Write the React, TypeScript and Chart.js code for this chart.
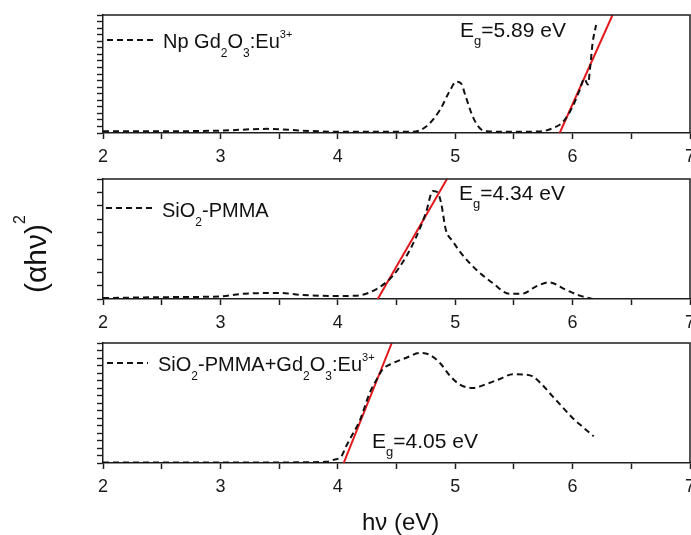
import React, { useEffect, useRef } from "react";
import { Chart, registerables } from "chart.js";

Chart.register(...registerables);

// ---------- data (x in eV, y in arbitrary units 0..100 of each panel) ----------
const xMin = 2;
const xMax = 7;
const xTickStep = 0.5;

// Panel 1: Np Gd2O3:Eu3+
const npX = [2.0, 2.5, 3.0, 3.4, 3.7, 4.0, 4.3, 4.64, 4.75, 4.87, 4.95, 5.01, 5.05, 5.09, 5.15, 5.21, 5.27, 5.43, 5.72, 5.83, 5.92, 6.0, 6.06, 6.1, 6.13, 6.15, 6.17, 6.2];
const npY = [1.5, 1.5, 2, 3.5, 2, 1, 1, 1, 5.3, 19.5, 35, 43.5, 42, 30.8, 13.8, 4, 1.5, 1, 1.3, 4, 9.6, 22.3, 36.4, 46, 41, 56, 76, 91.5];
const npFitX = [5.89, 6.34];
const npFitY = [0, 100];

// Panel 2: SiO2-PMMA
const pmX = [2.0, 2.5, 3.0, 3.2, 3.5, 3.7, 4.0, 4.16, 4.33, 4.47, 4.58, 4.66, 4.75, 4.81, 4.85, 4.88, 4.92, 4.98, 5.06, 5.18, 5.32, 5.46, 5.57, 5.69, 5.8, 5.94, 6.06, 6.17];
const pmY = [0.8, 1.5, 2.2, 4.4, 5, 3.3, 2.5, 2.8, 8.3, 19.4, 35, 50, 71.7, 90, 88.9, 80, 57.8, 48, 37, 24.4, 13.3, 4.4, 4.4, 10.5, 13.9, 7.8, 2.8, 0];
const pmFitX = [4.34, 4.93];
const pmFitY = [0, 100];

// Panel 3: SiO2-PMMA+Gd2O3:Eu3+
const hyX = [2.0, 2.5, 3.0, 3.5, 3.9, 3.97, 4.03, 4.07, 4.1, 4.19, 4.27, 4.33, 4.38, 4.47, 4.58, 4.7, 4.78, 4.87, 4.96, 5.04, 5.15, 5.27, 5.38, 5.49, 5.61, 5.66, 5.74, 5.83, 5.91, 6.0, 6.08, 6.18];
const hyY = [0.5, 0.5, 0.5, 0.5, 1, 2.8, 5.5, 13.8, 19.4, 36, 58, 69.4, 77.8, 83.3, 87.5, 91.7, 90.3, 83.3, 72.2, 65.3, 62.5, 66, 70, 74, 73.6, 72.2, 65.3, 55.5, 47, 37.5, 30.5, 22.2];
const hyFitX = [4.05, 4.46];
const hyFitY = [0, 100];

// minor y-tick counts per panel
const yTickCounts = [18, 9, 16];

// ---------- layout ----------
const FONT = "'Liberation Sans', Arial, Helvetica, sans-serif";
const CANVAS_W = 720;
const PLOT_LEFT = 103;
const PLOT_RIGHT = 690;
const PAD_TOP = 10;
const X_AXIS_H = 44;
const Y_AXIS_W = 7;
const AXIS_COLOR = "#1e1e1e";

const panels = [
  { top: 15, h: 118, xs: npX, ys: npY, fx: npFitX, fy: npFitY, n: yTickCounts[0] },
  { top: 179, h: 120, xs: pmX, ys: pmY, fx: pmFitX, fy: pmFitY, n: yTickCounts[1] },
  { top: 343, h: 120, xs: hyX, ys: hyY, fx: hyFitX, fy: hyFitY, n: yTickCounts[2] },
];

const framePlugin = {
  id: "frame",
  afterDraw(chart: any) {
    const { ctx, chartArea: a } = chart;
    ctx.save();
    ctx.strokeStyle = AXIS_COLOR;
    ctx.lineWidth = 1.5;
    ctx.beginPath();
    ctx.moveTo(a.left, a.top);
    ctx.lineTo(a.right, a.top);
    ctx.lineTo(a.right, a.bottom);
    ctx.stroke();
    ctx.restore();
  },
};

const subStyle = (shift: number, size: number): React.CSSProperties => ({
  fontSize: size,
  position: "relative",
  top: shift,
});

function Label({ left, top, size, children }: any) {
  return (
    <div
      style={{
        position: "absolute",
        left,
        top,
        fontSize: size,
        lineHeight: 1,
        whiteSpace: "nowrap",
        color: "#111",
      }}
    >
      {children}
    </div>
  );
}

export default function App() {
  const refs = useRef<(HTMLCanvasElement | null)[]>([]);

  useEffect(() => {
    const charts = panels.map((p, i) => {
      const canvas = refs.current[i] as HTMLCanvasElement;
      return new Chart(canvas, {
        type: "line",
        data: {
          datasets: [
            {
              data: p.xs.map((x, k) => ({ x, y: p.ys[k] })),
              borderColor: "#111",
              borderWidth: 2,
              borderDash: [6, 4],
              pointRadius: 0,
              cubicInterpolationMode: "monotone",
              fill: false,
            },
            {
              data: p.fx.map((x, k) => ({ x, y: p.fy[k] })),
              borderColor: "#e3181c",
              borderWidth: 2,
              pointRadius: 0,
              tension: 0,
              fill: false,
            },
          ],
        },
        options: {
          responsive: false,
          animation: false,
          devicePixelRatio: 1,
          events: [],
          layout: {
            padding: { left: PLOT_LEFT - Y_AXIS_W, right: CANVAS_W - PLOT_RIGHT, top: PAD_TOP, bottom: 0 },
          },
          plugins: { legend: { display: false }, tooltip: { enabled: false }, title: { display: false } },
          scales: {
            x: {
              type: "linear",
              min: xMin,
              max: xMax,
              afterFit(s: any) {
                s.height = X_AXIS_H;
                s.paddingLeft = 0;
                s.paddingRight = 0;
              },
              ticks: {
                stepSize: xTickStep,
                autoSkip: false,
                maxRotation: 0,
                padding: 7,
                color: "#1a1a1a",
                font: { family: FONT, size: 18 },
                callback: (v: any) => (Number.isInteger(v) ? String(v) : ""),
              },
              grid: { display: true, drawOnChartArea: false, tickLength: 6, tickColor: AXIS_COLOR, tickWidth: 1.5 },
              border: { display: true, color: AXIS_COLOR, width: 1.5 },
            },
            y: {
              type: "linear",
              min: 0,
              max: 100,
              afterFit(s: any) {
                s.width = Y_AXIS_W;
              },
              ticks: { display: false, stepSize: 100 / p.n },
              grid: { display: true, drawOnChartArea: false, tickLength: 6, tickColor: AXIS_COLOR, tickWidth: 1.4 },
              border: { display: true, color: AXIS_COLOR, width: 1.5 },
            },
          },
        } as any,
        plugins: [framePlugin],
      });
    });
    return () => charts.forEach((c) => c.destroy());
  }, []);

  return (
    <div
      style={{
        position: "fixed",
        left: 0,
        top: 0,
        width: 691,
        height: 535,
        overflow: "hidden",
        background: "#fff",
        fontFamily: FONT,
      }}
    >
      {panels.map((p, i) => (
        <canvas
          key={i}
          ref={(el) => {
            refs.current[i] = el;
          }}
          width={CANVAS_W}
          height={p.h + PAD_TOP + X_AXIS_H}
          style={{
            position: "absolute",
            left: 0,
            top: p.top - PAD_TOP,
            width: CANVAS_W,
            height: p.h + PAD_TOP + X_AXIS_H,
          }}
        />
      ))}

      <svg width={691} height={535} style={{ position: "absolute", left: 0, top: 0 }}>
        <line x1={107} y1={40} x2={155} y2={40} stroke="#111" strokeWidth={2} strokeDasharray="6 4" />
        <line x1={106} y1={208} x2={155} y2={208} stroke="#111" strokeWidth={2} strokeDasharray="6 4" />
        <line x1={107} y1={363} x2={148} y2={363} stroke="#111" strokeWidth={2} strokeDasharray="6 4" />
      </svg>

      {/* legends */}
      <Label left={163} top={31} size={20}>
        Np Gd<span style={subStyle(9, 12)}>2</span>O<span style={subStyle(9, 12)}>3</span>:Eu
        <span style={subStyle(-10, 11)}>3+</span>
      </Label>
      <Label left={162} top={200} size={20}>
        SiO<span style={subStyle(9, 12)}>2</span>-PMMA
      </Label>
      <Label left={158} top={354} size={20}>
        SiO<span style={subStyle(9, 12)}>2</span>-PMMA+Gd<span style={subStyle(9, 12)}>2</span>O
        <span style={subStyle(9, 12)}>3</span>:Eu<span style={subStyle(-10, 11)}>3+</span>
      </Label>

      {/* band gap labels */}
      <Label left={460} top={19} size={21}>
        E<span style={subStyle(8, 13)}>g</span>=5.89 eV
      </Label>
      <Label left={459} top={182} size={21}>
        E<span style={subStyle(8, 13)}>g</span>=4.34 eV
      </Label>
      <Label left={372} top={430} size={21}>
        E<span style={subStyle(8, 13)}>g</span>=4.05 eV
      </Label>

      {/* axis titles */}
      <div
        style={{
          position: "absolute",
          left: 36,
          top: 254,
          transform: "translate(-50%, -50%) rotate(-90deg)",
          fontSize: 30,
          lineHeight: 1,
          whiteSpace: "nowrap",
          color: "#111",
        }}
      >
        (αhν)<span style={subStyle(-21, 16)}>2</span>
      </div>
      <Label left={362} top={510} size={24}>
        hν (eV)
      </Label>
    </div>
  );
}
